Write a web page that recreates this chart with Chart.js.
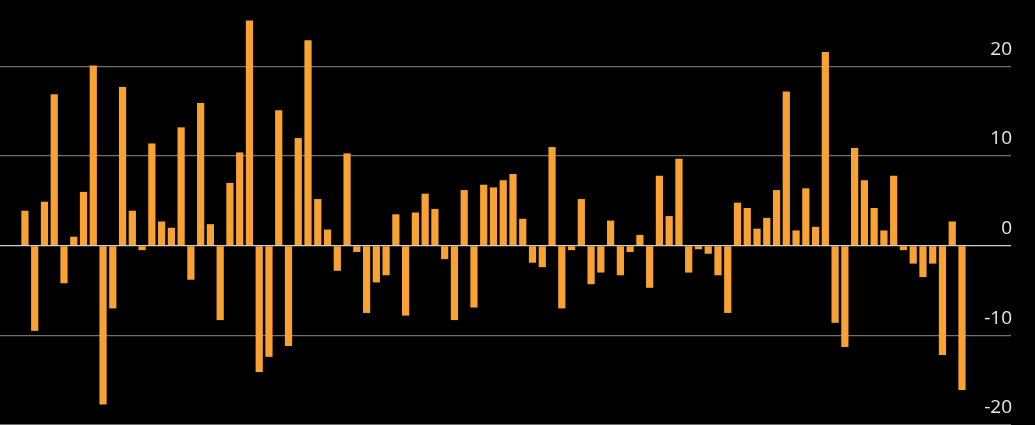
<!DOCTYPE html>
<html>
<head>
<meta charset="utf-8">
<script src="https://cdn.jsdelivr.net/npm/chart.js@4"></script>
<style>
  html, body { margin: 0; padding: 0; background: #000; }
  #wrap { width: 1035px; height: 425px; position: relative; }
</style>
</head>
<body>
<div id="wrap"><canvas id="bars-chart"></canvas></div>
<script>
// ── Данные ───────────────────────────────────────────────────────
// Порядковые номера столбиков (ось X скрыта)
const periods = Array.from({ length: 97 }, (_, i) => i + 1);

// Значения столбиков
const values = [
   3.9,  -9.5,   4.9,  16.9,  -4.2,   1.0,   6.0,  20.1, -17.7,  -7.0,
  17.7,   3.9,  -0.5,  11.4,   2.7,   2.0,  13.2,  -3.8,  15.9,   2.4,
  -8.3,   7.0,  10.4,  25.1, -14.1, -12.4,  15.1, -11.2,  12.0,  22.9,
   5.2,   1.8,  -2.8,  10.3,  -0.7,  -7.5,  -4.1,  -3.3,   3.5,  -7.8,
   3.7,   5.8,   4.1,  -1.5,  -8.3,   6.2,  -6.9,   6.8,   6.5,   7.3,
   8.0,   3.0,  -1.9,  -2.4,  11.0,  -7.0,  -0.5,   5.2,  -4.3,  -3.0,
   2.8,  -3.3,  -0.7,   1.2,  -4.7,   7.8,   3.3,   9.7,  -3.0,  -0.4,
  -0.9,  -3.3,  -7.5,   4.8,   4.2,   1.9,   3.1,   6.2,  17.2,   1.7,
   6.4,   2.1,  21.6,  -8.6, -11.3,  10.9,   7.3,   4.2,   1.7,   7.8,
  -0.5,  -2.0,  -3.5,  -2.0, -12.2,   2.7, -16.1,
];

// Деления правой оси
const yTicks = [-20, -10, 0, 10, 20];

// ── График ───────────────────────────────────────────────────────
const canvas = document.getElementById('bars-chart');

new Chart(canvas, {
  type: 'bar',
  data: {
    datasets: [{
      data: periods.map((p, i) => ({ x: p, y: values[i] })),
      backgroundColor: '#f7a233',
      borderWidth: 0,
      barPercentage: 0.74,
      categoryPercentage: 1,
    }],
  },
  options: {
    responsive: true,
    maintainAspectRatio: false,
    animation: false,
    layout: { padding: { left: 0, right: 22, top: 0, bottom: 0 } },
    plugins: {
      legend:  { display: false },
      tooltip: { enabled: false },
    },
    scales: {
      x: {
        type: 'linear',
        display: false,
        offset: false,
        bounds: 'data',
        min: -1.556,
        max: 102.02,
        afterBuildTicks: (axis) => { axis.ticks = []; },
      },
      y: {
        position: 'right',
        min: -20,
        max: 27.4,
        afterBuildTicks: (axis) => { axis.ticks = yTicks.map(v => ({ value: v })); },
        // убираем отступы под подписи крайних делений
        afterFit: (axis) => { axis.paddingTop = 0; axis.paddingBottom = 0; },
        border: { display: false },
        grid: {
          drawTicks: false,
          lineWidth: 1.2,
          color: (ctx) => (ctx.tick && ctx.tick.value === 0 ? '#d0d0d0' : '#707070'),
        },
        ticks: {
          mirror: true,
          padding: 1,
          labelOffset: -17,
          color: '#e8e8e8',
          font: { family: 'Open Sans, sans-serif', size: 19 },
        },
      },
    },
  },
});
</script>
</body>
</html>
